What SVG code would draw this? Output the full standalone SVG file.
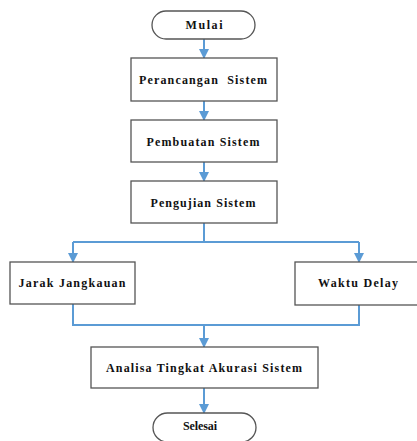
<svg xmlns="http://www.w3.org/2000/svg" width="417" height="441" viewBox="0 0 417 441">
<defs>
<style>
.box{fill:#fff;stroke:#555;stroke-width:1.3}
.ln{fill:none;stroke:#5b9bd5;stroke-width:2}
.t{font-family:"Liberation Serif","Times New Roman",serif;font-weight:bold;font-size:12px;fill:#111;text-anchor:middle;dominant-baseline:central}
</style>
<marker id="ah" viewBox="0 0 10 10" refX="9" refY="5" markerWidth="5" markerHeight="5.5" markerUnits="strokeWidth" orient="auto">
<path d="M0,0 L10,5 L0,10 Z" fill="#5b9bd5"/>
</marker>
</defs>
<rect width="417" height="441" fill="#fff"/>
<g id="connectors">
<path class="ln" d="M204,39 V58" marker-end="url(#ah)"/>
<path class="ln" d="M204,101 V120" marker-end="url(#ah)"/>
<path class="ln" d="M204,162 V181" marker-end="url(#ah)"/>
<path class="ln" d="M204,223 V242"/>
<path class="ln" d="M73,242 H359"/>
<path class="ln" d="M73,242 V262" marker-end="url(#ah)"/>
<path class="ln" d="M359,242 V262" marker-end="url(#ah)"/>
<path class="ln" d="M73,304 V325 H359 V305"/>
<path class="ln" d="M204,325 V347" marker-end="url(#ah)"/>
<path class="ln" d="M204,388 V413" marker-end="url(#ah)"/>
</g>
<g id="mulai"><rect class="box" x="152" y="11" width="103" height="28" rx="14"/><text class="t" x="204" y="25" textLength="37" lengthAdjust="spacing">Mulai</text></g>
<g id="perancangan"><rect class="box" x="131" y="58" width="146" height="43"/><text class="t" x="203" y="80" textLength="128" lengthAdjust="spacing" xml:space="preserve">Perancangan  Sistem</text></g>
<g id="pembuatan"><rect class="box" x="131" y="120" width="146" height="42"/><text class="t" x="203" y="142" textLength="113" lengthAdjust="spacing">Pembuatan Sistem</text></g>
<g id="pengujian"><rect class="box" x="131" y="181" width="146" height="42"/><text class="t" x="203" y="203" textLength="105" lengthAdjust="spacing">Pengujian Sistem</text></g>
<g id="jarak"><rect class="box" x="10" y="262" width="125" height="42"/><text class="t" x="72" y="283" textLength="107" lengthAdjust="spacing">Jarak Jangkauan</text></g>
<g id="waktu"><rect class="box" x="295" y="262" width="128" height="43"/><text class="t" x="358" y="283" textLength="80" lengthAdjust="spacing">Waktu Delay</text></g>
<g id="analisa"><rect class="box" x="91" y="347" width="227" height="41"/><text class="t" x="204" y="368" textLength="196" lengthAdjust="spacing">Analisa Tingkat Akurasi Sistem</text></g>
<g id="selesai"><rect class="box" x="153" y="413" width="103" height="29" rx="14.5"/><text class="t" x="200" y="426" textLength="34" lengthAdjust="spacing">Selesai</text></g>
</svg>
